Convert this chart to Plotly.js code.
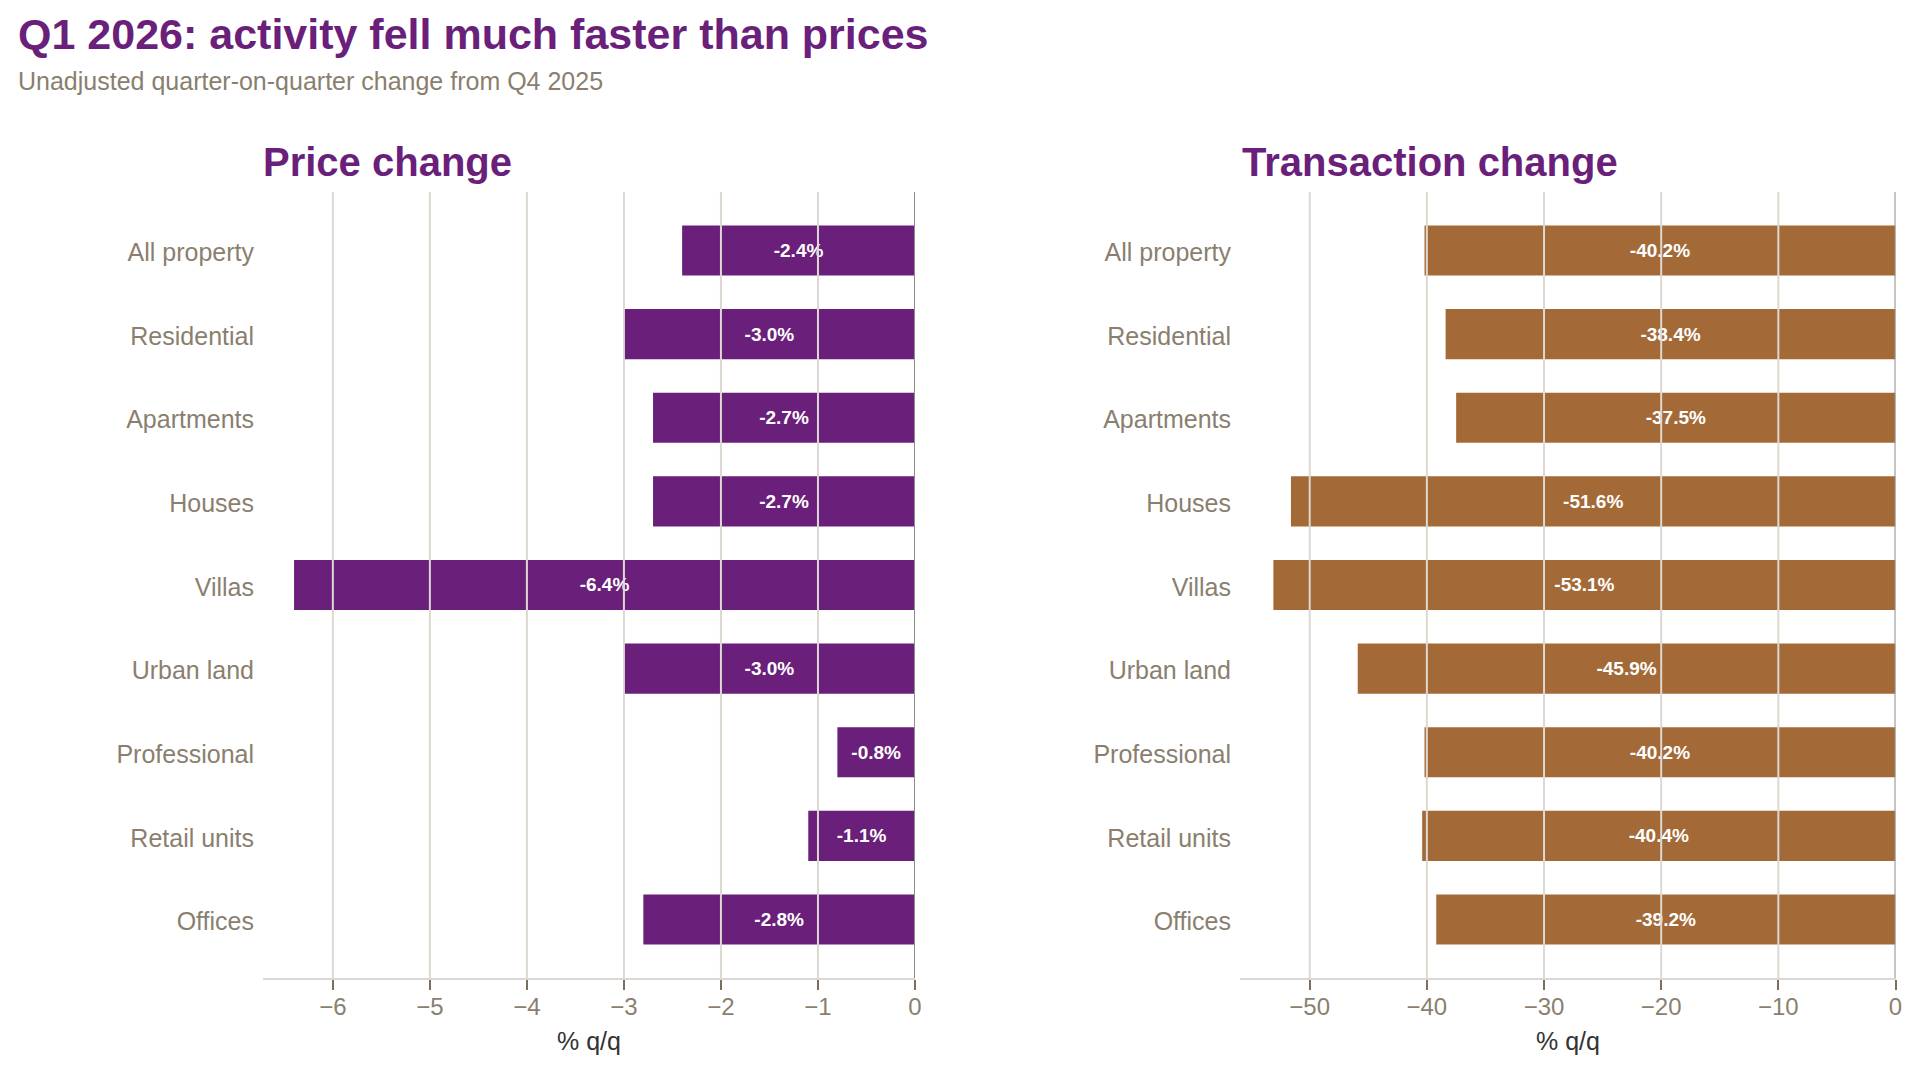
<!DOCTYPE html>
<html>
<head>
<meta charset="utf-8">
<script src="https://cdn.plot.ly/plotly-3.0.1.min.js"></script>
<style>
html,body{margin:0;padding:0;background:#fff;}
#chart{width:1920px;height:1073px;}
</style>
</head>
<body>
<div id="chart"></div>
<script>
const categories = ['All property','Residential','Apartments','Houses','Villas','Urban land','Professional','Retail units','Offices'];
const priceChange = [-2.4, -3.0, -2.7, -2.7, -6.4, -3.0, -0.8, -1.1, -2.8];
const transactionChange = [-40.2, -38.4, -37.5, -51.6, -53.1, -45.9, -40.2, -40.4, -39.2];
const priceTicks = [-6, -5, -4, -3, -2, -1, 0];
const transactionTicks = [-50, -40, -30, -20, -10, 0];

const FONT = 'Liberation Sans, Arial, Helvetica, sans-serif';
const PURPLE = '#6a1f7a';
const BROWN = '#a36a37';
const LABEL = '#8a7f6f';
const GRID = '#ddd8d1';

function fmt(v){ return v.toFixed(1) + '%'; }

const traces = [
  {
    type: 'bar', orientation: 'h',
    x: priceChange, y: categories,
    xaxis: 'x', yaxis: 'y',
    marker: {color: PURPLE},
    text: priceChange.map(fmt),
    textposition: 'inside', insidetextanchor: 'middle',
    textfont: {family: FONT, size: 19, color: '#ffffff', weight: 700},
    hoverinfo: 'skip', showlegend: false
  },
  {
    type: 'bar', orientation: 'h',
    x: transactionChange, y: categories,
    xaxis: 'x2', yaxis: 'y2',
    marker: {color: BROWN},
    text: transactionChange.map(fmt),
    textposition: 'inside', insidetextanchor: 'middle',
    textfont: {family: FONT, size: 19, color: '#ffffff', weight: 700},
    hoverinfo: 'skip', showlegend: false
  }
];

function gridShapes(ticks, xref){
  return ticks.map(t => ({
    type: 'line', xref: xref, yref: (xref === 'x' ? 'y domain' : 'y2 domain'),
    x0: t, x1: t, y0: 0, y1: 1, layer: 'above',
    line: {color: t === 0 ? '#8c8c8c' : GRID, width: 2}
  }));
}

const xCommon = {
  showgrid: false, zeroline: false,
  showline: true, linecolor: GRID, linewidth: 2,
  ticks: 'outside', ticklen: 10, tickwidth: 2, tickcolor: '#7a6f60',
  tickfont: {family: FONT, size: 24, color: LABEL},
  ticklabelstandoff: -4,
  fixedrange: true
};
const yCommon = {
  type: 'category', categoryorder: 'array', categoryarray: categories,
  range: [8.7, -0.7],
  showgrid: false, zeroline: false, showline: false, ticks: '',
  tickfont: {family: FONT, size: 25, color: LABEL},
  ticklabelstandoff: 8,
  ticklabelshift: -2,
  domain: [0.0885, 0.8211],
  fixedrange: true
};

const layout = {
  width: 1920, height: 1073,
  margin: {l: 0, r: 0, t: 0, b: 0},
  paper_bgcolor: '#ffffff', plot_bgcolor: '#ffffff',
  bargap: 0.4,
  hovermode: false,
  font: {family: FONT},
  xaxis: Object.assign({}, xCommon, {
    domain: [263/1920, 915/1920], range: [-6.72, 0],
    tickvals: priceTicks, anchor: 'y'
  }),
  yaxis: Object.assign({}, yCommon, {anchor: 'x'}),
  xaxis2: Object.assign({}, xCommon, {
    domain: [1240/1920, 1895.5/1920], range: [-55.95, 0],
    tickvals: transactionTicks, anchor: 'y2'
  }),
  yaxis2: Object.assign({}, yCommon, {anchor: 'x2'}),
  shapes: gridShapes(priceTicks, 'x').concat(gridShapes(transactionTicks, 'x2')),
  annotations: [
    {text: '<b>Q1 2026: activity fell much faster than prices</b>', xref: 'paper', yref: 'paper',
     x: 16/1920, y: 1 - 34/1073, xanchor: 'left', yanchor: 'middle', showarrow: false,
     font: {family: FONT, size: 43, color: PURPLE}},
    {text: 'Unadjusted quarter-on-quarter change from Q4 2025', xref: 'paper', yref: 'paper',
     x: 16/1920, y: 1 - 81/1073, xanchor: 'left', yanchor: 'middle', showarrow: false,
     font: {family: FONT, size: 25, color: LABEL}},
    {text: '<b>Price change</b>', xref: 'paper', yref: 'paper',
     x: 261/1920, y: 1 - 162/1073, xanchor: 'left', yanchor: 'middle', showarrow: false,
     font: {family: FONT, size: 40, color: PURPLE}},
    {text: '<b>Transaction change</b>', xref: 'paper', yref: 'paper',
     x: 1240/1920, y: 1 - 162/1073, xanchor: 'left', yanchor: 'middle', showarrow: false,
     font: {family: FONT, size: 40, color: PURPLE}},
    {text: '% q/q', xref: 'paper', yref: 'paper',
     x: ((263+915)/2)/1920, y: 1 - 1041/1073, xanchor: 'center', yanchor: 'middle', showarrow: false,
     font: {family: FONT, size: 25, color: '#333333'}},
    {text: '% q/q', xref: 'paper', yref: 'paper',
     x: ((1240+1895.5)/2)/1920, y: 1 - 1041/1073, xanchor: 'center', yanchor: 'middle', showarrow: false,
     font: {family: FONT, size: 25, color: '#333333'}}
  ]
};

Plotly.newPlot('chart', traces, layout, {displayModeBar: false, staticPlot: true});
</script>
</body>
</html>
